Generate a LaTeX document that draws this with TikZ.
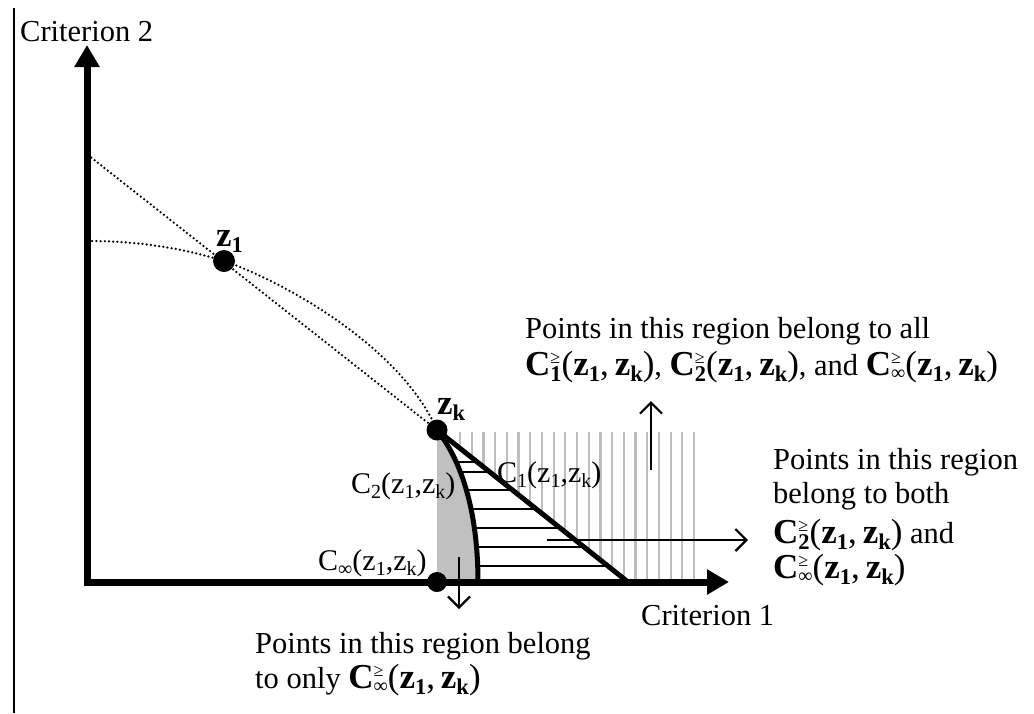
\documentclass[tikz,border=0pt]{standalone}
\usepackage{fontspec}
\setmainfont{Liberation Serif}
\usetikzlibrary{arrows.meta}
\definecolor{fillg}{RGB}{192,192,192}
\definecolor{lineg}{RGB}{190,190,190}
% subscripts for thin labels and bold text
\newcommand\lsub[1]{\raisebox{-5.5pt}{\fontsize{20}{20}\selectfont #1}}
\newcommand\bsub[1]{\raisebox{-6.5pt}{\fontsize{22.5}{22.5}\selectfont\bfseries #1}}
\newcommand\bigb[1]{{\fontsize{35}{38}\selectfont\bfseries #1}}
\newcommand\myz[1]{\bigb{z}\bsub{#1}}
\newcommand\geqmark{\rlap{\raisebox{12pt}{\fontsize{18}{18}\selectfont\mdseries ≥}}}
\newcommand\myC[1]{\bigb{C}\geqmark\bsub{#1}}
\newcommand\myCinf{\bigb{C}\geqmark\raisebox{-4pt}{\fontsize{20}{20}\selectfont ∞}}
\newcommand\pair{{\fontsize{35}{38}\selectfont(}\myz{1}{\fontsize{35}{38}\selectfont,\,}\myz{k}{\fontsize{35}{38}\selectfont)}}
\begin{document}
\begin{tikzpicture}[x=1pt,y=-1pt,
  txt/.style={font=\fontsize{30.5}{36}\selectfont, inner sep=0pt, anchor=base west},
  lbl/.style={font=\fontsize{30}{34}\selectfont, inner sep=0pt, anchor=base west},
  axisline/.style={line width=7pt, -{Triangle[length=22pt,width=24pt]}},
  dotline/.style={line width=2.5pt, dash pattern=on 0pt off 4.2pt, line cap=round},
  thickc/.style={line width=5pt},
  blackdot/.style={circle, fill=black, inner sep=0pt, minimum size=21pt},
  thinarrow/.style={line width=2.2pt, -{Straight Barb[length=11pt,width=22pt,line width=2.2pt]}}
]
\useasboundingbox (0,0) rectangle (1034,713);
% left frame line
\draw[line width=2.6pt] (14,8) -- (14,713);
% gray region (only C_inf)
\fill[fillg] (437,430) -- (437,582) -- (478,582) .. controls (478,520) and (465,465) .. (437,430) -- cycle;
% gray vertical hatching (all three)
\begin{scope}
  \clip (440,432) -- (697,432) -- (697,582) -- (628,582) -- cycle;
  \foreach \i in {0,...,20} \draw[lineg, line width=2.2pt] ({460+11.7*\i},432) -- ({460+11.7*\i},584);
\end{scope}
% horizontal hatching (C2 and C_inf)
\begin{scope}
  \clip (437,430) .. controls (465,465) and (478,520) .. (478,582) -- (628,582) -- cycle;
  \foreach \yy in {461.7,471.7,490,509,528,547,566} \draw[line width=2pt] (430,\yy) -- (640,\yy);
\end{scope}
% axes
\coordinate (ytip) at (87,45);
\coordinate (xtip) at (729,582);
\draw[axisline] (87,585.5) -- (ytip);
\draw[axisline] (83.5,582) -- (xtip);
% points
\node[blackdot, minimum width=22pt, minimum height=19pt] (z1) at (224,261) {};
\node[blackdot] (zk) at (437,430) {};
\node[blackdot, minimum size=20pt] (cinf) at (437,582) {};
% dotted lines
\coordinate (ya) at (88,155);
\coordinate (yb) at (88,241);
\draw[dotline] (ya) -- (zk.center);
\draw[dotline] (yb) .. controls (150,241) and (195,252) .. (z1.center)
                    .. controls (280,280) and (400,345) .. (zk.center);
% boundaries
\coordinate (c2end) at (478,582);
\coordinate (c1end) at (628,582);
\draw[thickc] (zk.center) .. controls (465,465) and (478,520) .. (c2end);
\draw[thickc] (zk.center) -- (c1end);
% point labels
\node[lbl, anchor=base west] (z1lab) at (216,246) {\myz{1}};
\node[lbl, anchor=base west] (zklab) at (437,414) {\myz{k}};
% curve labels
\node[lbl] (c2lab) at (351,493) {C\lsub{2}(z\lsub{1},z\lsub{k})};
\node[lbl] (c1lab) at (497,482) {C\lsub{1}(z\lsub{1},z\lsub{k})};
\node[lbl] (cinflab) at (318,570) {C\lsub{∞}(z\lsub{1},z\lsub{k})};
% axis titles
\node[txt] (crit2) at (20,41) {Criterion 2};
\node[txt] (crit1) at (641,625) {Criterion 1};
% explanation texts
\node[txt] (topa) at (525,338) {Points in this region belong to all};
\node[txt] (topb) at (525,375) {\myC{1}\pair, \myC{2}\pair, and \myCinf\pair};
\node[txt] (ra) at (773,469) {Points in this region};
\node[txt] (rb) at (773,503) {belong to both};
\node[txt] (rc) at (773,543) {\myC{2}\pair\ and};
\node[txt] (rd) at (773,578) {\myCinf\pair};
\node[txt] (ba) at (255,653) {Points in this region belong};
\node[txt] (bb) at (255,688) {to only \myCinf\pair};
% arrows to texts
\coordinate (upA) at (651,470);
\coordinate (upB) at (651,401);
\coordinate (rtA) at (547,540);
\coordinate (rtB) at (748,540);
\coordinate (dnA) at (459,557);
\coordinate (dnB) at (459,609);
\draw[thinarrow] (upA) -- (upB);
\draw[thinarrow] (rtA) -- (rtB);
\draw[thinarrow] (dnA) -- (dnB);
\end{tikzpicture}
\end{document}
